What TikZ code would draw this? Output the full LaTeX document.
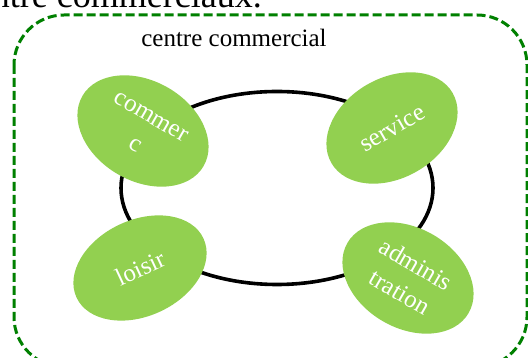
\documentclass[tikz,border=0pt]{standalone}
\usepackage{fontspec}
\setmainfont{Liberation Serif}
\usepackage{xcolor}
\definecolor{leaf}{HTML}{92D050}
\definecolor{frame}{rgb}{0,0.5,0}
\usetikzlibrary{shapes.geometric, positioning}

\begin{document}
\begin{tikzpicture}[x=1pt, y=1pt,
    part/.style={ellipse, fill=leaf, text=white, inner sep=0pt, minimum width=140pt, minimum height=100pt, align=center, font=\fontsize{25}{32}\selectfont}]
    \useasboundingbox (0,0) rectangle (528,358);

    % Caption above, cut by the page
    \node[anchor=base east, inner sep=0pt, font=\fontsize{36}{42}\selectfont] (caption) at (262,350) {centre commerciaux.};

    % Dashed frame
    \draw[frame, line width=3pt, dash pattern=on 9pt off 4pt, rounded corners=50pt] (14,343) rectangle (527,-9);
    \node[anchor=base, inner sep=0pt, font=\fontsize{25}{30}\selectfont] (title) at (234,311) {centre commercial};

    % Ring joining the parts
    \node[ellipse, draw, line width=3.6pt, minimum width=312pt, minimum height=193pt, inner sep=0pt] (ring) at (277,170) {};

    % The four parts
    \node[part, rotate=-30] (commerce) at (143,227) {commer\\c};
    \node[part, rotate=30] (service) at (392,230) {service};
    \node[part, rotate=25, minimum height=96pt] (loisir) at (140,90) {loisir};
    \node[part, rotate=-30] (admin) at (408,80) {adminis\\tration};
\end{tikzpicture}
\end{document}
